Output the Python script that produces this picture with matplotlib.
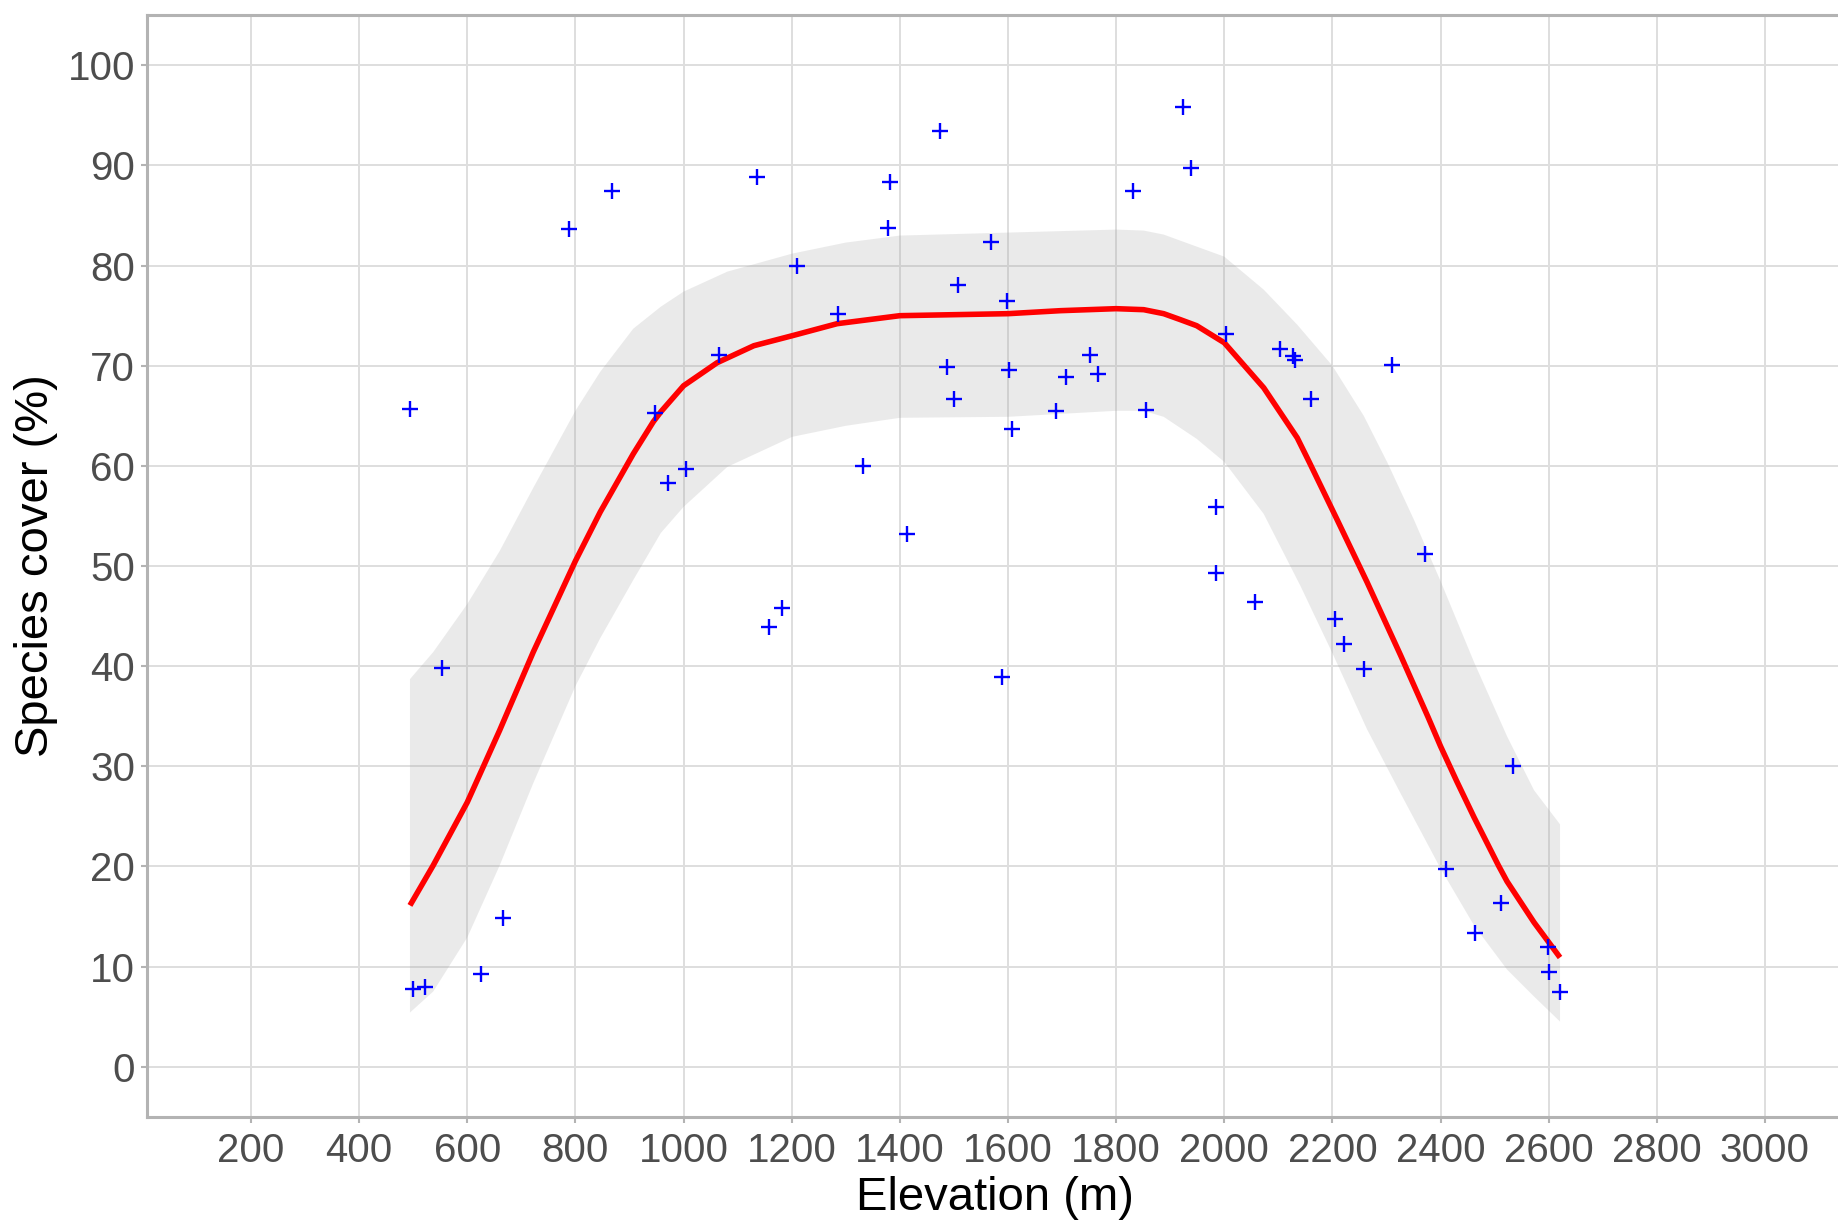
import matplotlib
matplotlib.use("Agg")
import matplotlib.pyplot as plt

plt.rcParams['font.family'] = ['Liberation Sans', 'DejaVu Sans']

# ---- observed points ----
elevation = [495, 499, 521, 553, 625, 666, 789, 867, 948, 972, 1004, 1065, 1136,
             1158, 1182, 1210, 1286, 1331, 1379, 1381, 1414, 1475, 1487, 1500,
             1507, 1568, 1589, 1598, 1602, 1607, 1689, 1708, 1752, 1767, 1832,
             1856, 1923, 1938, 1984, 1984, 2003, 2057, 2103, 2127, 2131, 2161,
             2205, 2222, 2259, 2311, 2371, 2410, 2464, 2512, 2534, 2599, 2601, 2621]
cover = [65.7, 7.8, 8.0, 39.8, 9.3, 14.8, 83.7, 87.5, 65.3, 58.3, 59.7, 71.1, 88.9,
         43.9, 45.8, 80.0, 75.2, 60.0, 83.8, 88.4, 53.2, 93.4, 69.9, 66.7,
         78.1, 82.4, 38.9, 76.5, 69.6, 63.7, 65.5, 68.9, 71.1, 69.2, 87.5,
         65.6, 95.8, 89.7, 55.9, 49.3, 73.2, 46.4, 71.7, 71.0, 70.6, 66.7,
         44.7, 42.2, 39.7, 70.1, 51.2, 19.7, 13.3, 16.3, 30.0, 11.9, 9.5, 7.5]

# ---- smooth fit and its confidence band ----
fit_x = [494, 537, 600, 660, 722, 800, 846, 907, 944, 958, 1000, 1062, 1130, 1201,
         1284, 1400, 1600, 1697, 1800, 1851, 1888, 1919, 1949, 2000, 2073, 2135,
         2157, 2209, 2264, 2326, 2377, 2400, 2430, 2462, 2507, 2523, 2573, 2621]
fit_y = [16.1, 20.1, 26.4, 33.6, 41.4, 50.5, 55.4, 61.2, 64.4, 65.4, 68.0, 70.3, 72.0,
         73.0, 74.2, 75.0, 75.2, 75.5, 75.7, 75.6, 75.2, 74.6, 74.0, 72.3, 67.8, 62.8,
         60.4, 54.6, 48.4, 41.1, 34.9, 32.0, 28.5, 24.9, 20.1, 18.5, 14.4, 10.9]

ci_upper_x = [494, 537, 600, 660, 722, 800, 846, 907, 958, 1000, 1081, 1201, 1300,
              1400, 1600, 1800, 1851, 1888, 1949, 2000, 2073, 2135, 2200, 2258, 2302,
              2351, 2400, 2462, 2523, 2573, 2621]
ci_upper_y = [38.7, 41.4, 46.2, 51.5, 57.8, 65.5, 69.4, 73.7, 75.9, 77.4, 79.4, 81.2, 82.3,
              83.0, 83.3, 83.6, 83.5, 83.1, 81.9, 80.9, 77.6, 74.1, 70.0, 65.0, 60.3,
              54.6, 48.5, 40.4, 33.0, 27.6, 24.2]
ci_lower_x = [494, 537, 600, 660, 722, 800, 846, 907, 958, 1000, 1081, 1201, 1300,
              1400, 1600, 1800, 1851, 1888, 1949, 2000, 2073, 2141, 2200, 2264, 2326,
              2400, 2462, 2523, 2573, 2621]
ci_lower_y = [5.4, 7.5, 12.9, 20.1, 28.3, 38.0, 42.8, 48.6, 53.3, 55.9, 59.9, 62.9, 64.0,
              64.8, 64.9, 65.5, 65.5, 64.9, 62.7, 60.4, 55.2, 48.0, 41.3, 33.7, 27.3,
              19.8, 14.1, 9.7, 7.0, 4.5]

x_ticks = list(range(200, 3001, 200))
y_ticks = list(range(0, 101, 10))

W, H = 1838, 1221
fig = plt.figure(figsize=(W / 100, H / 100), dpi=100)
left, right, top, bottom = 146.9, 1842, 15.3, 1116.7
ax = fig.add_axes([left / W, 1 - bottom / H, (right - left) / W, (bottom - top) / H])

ax.set_xlim(7.5, 3142.5)
ax.set_ylim(-5, 105)
ax.set_xticks(x_ticks)
ax.set_yticks(y_ticks)
ax.grid(True, color='#DEDEDE', linewidth=1.4, zorder=0)
ax.set_axisbelow(True)

# confidence band
poly_x = ci_upper_x + ci_lower_x[::-1]
poly_y = ci_upper_y + ci_lower_y[::-1]
ax.fill(poly_x, poly_y, color='#999999', alpha=0.2, linewidth=0, zorder=2)
ax.plot(fit_x, fit_y, color='#FF0000', linewidth=4.0, solid_capstyle='butt',
        solid_joinstyle='round', zorder=3)
ax.plot(elevation, cover, linestyle='none', marker='+', color='#0000FF',
        markersize=12, markeredgewidth=1.7, zorder=4)

for s in ['left', 'top', 'bottom', 'right']:
    ax.spines[s].set_color('#B3B3B3')
    ax.spines[s].set_linewidth(2.2)

ax.tick_params(axis='both', length=4.5, width=1.5, color='#B3B3B3',
               labelcolor='#4D4D4D', labelsize=29)
ax.tick_params(axis='x', pad=6.5)
ax.tick_params(axis='y', pad=4)
ax.set_xlabel('Elevation (m)', fontsize=34, color='black', labelpad=4.5)
ax.set_ylabel('Species cover (%)', fontsize=34, color='black', labelpad=6.7)

fig.savefig('out.png', dpi=100)
